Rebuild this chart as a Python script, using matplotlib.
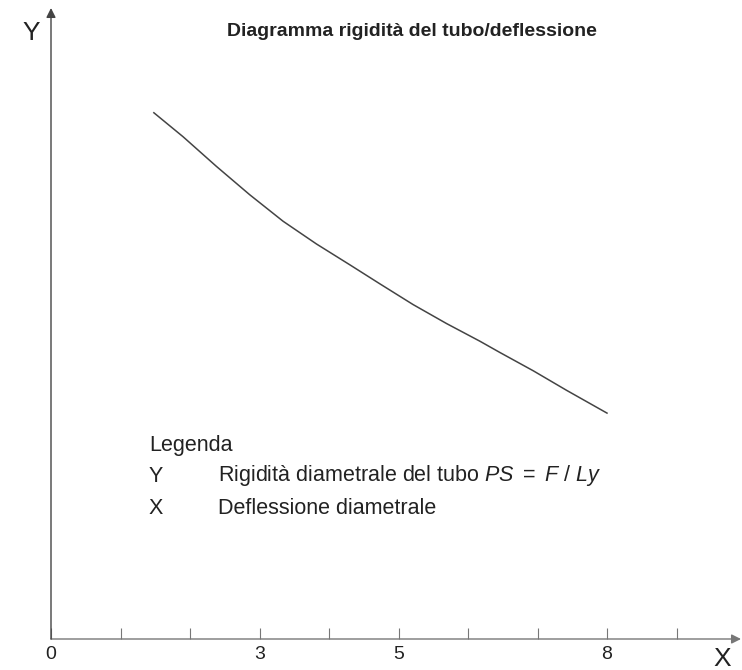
import numpy as np
import matplotlib

matplotlib.use('Agg')
import matplotlib.pyplot as plt
from matplotlib import font_manager

# --- данные ---
deflection = [1.48, 1.90, 2.38, 2.86, 3.34, 3.82, 4.30, 4.73, 5.21, 5.69, 6.17, 6.46, 6.94, 7.42, 8.0]
stiffness = [8.34, 7.96, 7.49, 7.04, 6.62, 6.26, 5.93, 5.63, 5.30, 5.00, 4.72, 4.54, 4.25, 3.94, 3.58]
x_ticks = [0, 1, 2, 3, 4, 5, 6, 7, 8, 9]
x_ticklabels = ['0', '', '', '3', '', '5', '', '', '8', '']

title = 'Diagramma rigidità del tubo/deflessione'
legend_head = 'Legenda'
legend_rows = [('Y', 'Rigidità diametrale del tubo $\\mathit{PS}\\ =\\ \\mathit{F}\\ /\\ \\mathit{Ly}$'),
               ('X', 'Deflessione diametrale')]

names = {f.name for f in font_manager.fontManager.ttflist}
narrow = 'Liberation Sans Narrow' if 'Liberation Sans Narrow' in names else 'Liberation Sans'
plain = ['Liberation Sans', 'DejaVu Sans']

plt.rcParams['mathtext.fontset'] = 'custom'
plt.rcParams['mathtext.it'] = 'Liberation Sans:italic'
plt.rcParams['mathtext.rm'] = 'Liberation Sans'

W, H = 742, 670
fig = plt.figure(figsize=(W / 100, H / 100), dpi=100)
# оси от пикселя x=51 до 741, y=8 до 639
ax = fig.add_axes([51 / W, (H - 639) / H, 690 / W, 631 / H])
ax.set_xlim(0, 690 / 69.5)
ax.set_ylim(0, 10)

line_col = '#444444'
text_col = '#222222'

for s in ax.spines.values():
    s.set_visible(False)

# оси со стрелками
ax.annotate('', xy=(1, 0), xytext=(0, 0), xycoords='axes fraction',
            arrowprops=dict(arrowstyle='-|>', color='#777777', lw=1.0,
                            mutation_scale=14, shrinkA=0, shrinkB=0))
ax.annotate('', xy=(0, 1), xytext=(0, 0), xycoords='axes fraction',
            arrowprops=dict(arrowstyle='-|>', color=line_col, lw=1.0,
                            mutation_scale=14, shrinkA=0, shrinkB=0))

ax.set_xticks(x_ticks)
ax.set_xticklabels(x_ticklabels, family=narrow, fontsize=14, color=text_col)
ax.tick_params(axis='x', direction='in', length=8, width=0.8, color='#777777', pad=5)
ax.set_yticks([])

ax.plot(deflection, stiffness, color=line_col, lw=1.1)

fig.text(31 / W, 1 - 33 / H, 'Y', family=plain, fontsize=19, color=text_col,
         ha='center', va='center')
fig.text(722 / W, 1 - 659 / H, 'X', family=plain, fontsize=19, color=text_col,
         ha='center', va='center')

fig.text(412 / W, 1 - 31 / H, title, family=narrow, fontweight='bold',
         fontsize=14, color=text_col, ha='center', va='center')

fs = 15.5
fig.text(149 / W, 1 - 446 / H, legend_head, family=plain, fontsize=fs,
         color=text_col, ha='left', va='center')
for i, (k, txt) in enumerate(legend_rows):
    yy = 1 - (476 + 32 * i) / H
    fig.text(149 / W, yy, k, family=plain, fontsize=fs, color=text_col,
             ha='left', va='center')
    fig.text(218 / W, yy, txt, family=plain, fontsize=fs, color=text_col,
             ha='left', va='center')

fig.savefig('out.png', dpi=100)
